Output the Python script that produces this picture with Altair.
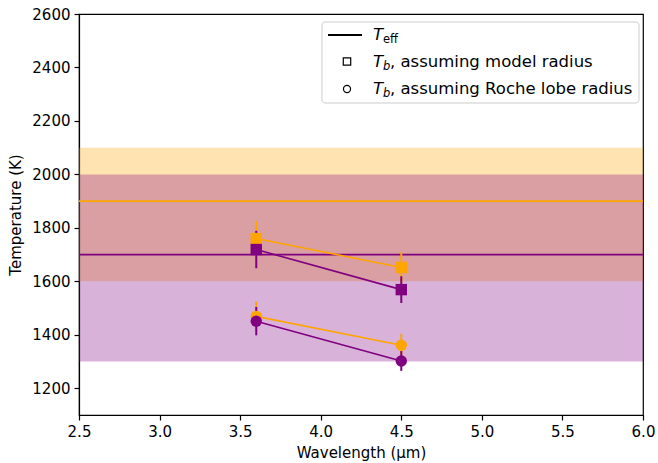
import altair as alt
import pandas as pd

# ---- data ----
wavelengths = [3.6, 4.5]
tb_model_orange = [1760, 1652]
tb_model_orange_err = [65, 57]
tb_model_purple = [1719, 1569]
tb_model_purple_err = [70, 50]
tb_roche_orange = [1469, 1361]
tb_roche_orange_err = [55, 43]
tb_roche_purple = [1451, 1302]
tb_roche_purple_err = [53, 37]

teff_values = [1900, 1700]
teff_colors = ["#FFA500", "#800080"]
band_lo = [1600, 1300]
band_hi = [2100, 2000]

x_ticks = [2.5, 3.0, 3.5, 4.0, 4.5, 5.0, 5.5, 6.0]
y_ticks = [1200, 1400, 1600, 1800, 2000, 2200, 2400, 2600]

legend_rest = ["", ", assuming model radius", ", assuming Roche lobe radius"]

W, H = 564, 401
FONT = "DejaVu Sans"
FS = 15
LFS = 16.5

rows = []
series_defs = [
    ("orange_sq", "#FFA500", "square", tb_model_orange, tb_model_orange_err),
    ("orange_ci", "#FFA500", "circle", tb_roche_orange, tb_roche_orange_err),
    ("purple_sq", "#800080", "square", tb_model_purple, tb_model_purple_err),
    ("purple_ci", "#800080", "circle", tb_roche_purple, tb_roche_purple_err),
]
for name, col, shp, vals, errs in series_defs:
    for w, v, e in zip(wavelengths, vals, errs):
        rows.append(dict(series=name, color=col, shape=shp, wl=w, T=v,
                         lo=v - e, hi=v + e))
df = pd.DataFrame(rows)

bands = pd.DataFrame(dict(lo=band_lo, hi=band_hi, color=teff_colors))
teff = pd.DataFrame(dict(T=teff_values, color=teff_colors))

xs = alt.Scale(domain=[2.5, 6.0], nice=False, zero=False)
ys = alt.Scale(domain=[1100, 2600], nice=False, zero=False)

band_layer = alt.Chart(bands).mark_rect(opacity=0.3).encode(
    x=alt.value(0), x2=alt.value(W),
    y=alt.Y("lo:Q", scale=ys), y2="hi:Q",
    color=alt.Color("color:N", scale=None),
)

teff_layer = alt.Chart(teff).mark_rule(strokeWidth=1.6).encode(
    x=alt.value(0), x2=alt.value(W),
    y=alt.Y("T:Q", scale=ys),
    color=alt.Color("color:N", scale=None),
)

base = alt.Chart(df)
xenc = alt.X("wl:Q", scale=xs,
             axis=alt.Axis(values=x_ticks, format=".1f",
                           title="Wavelength (μm)"))
yenc = alt.Y("T:Q", scale=ys,
             axis=alt.Axis(values=y_ticks, format="d",
                           title="Temperature (K)"))

line_layer = base.mark_line(strokeWidth=1.6).encode(
    x=xenc, y=yenc, detail="series:N",
    color=alt.Color("color:N", scale=None),
)
err_layer = base.mark_rule(strokeWidth=2).encode(
    x="wl:Q", y=alt.Y("lo:Q", scale=ys), y2="hi:Q",
    color=alt.Color("color:N", scale=None),
)
pt_layer = base.mark_point(filled=True, opacity=1, size=130).encode(
    x="wl:Q", y=alt.Y("T:Q", scale=ys),
    color=alt.Color("color:N", scale=None),
    shape=alt.Shape("shape:N", scale=None),
)

# ---- legend (drawn by hand to allow subscripts) ----
one = pd.DataFrame({"a": [0]})
lg_box = alt.Chart(one).mark_rect(
    fill="white", fillOpacity=0.8, stroke="#cccccc", strokeWidth=1,
    cornerRadius=3,
).encode(x=alt.value(243), x2=alt.value(560), y=alt.value(8), y2=alt.value(89))

lg_line = alt.Chart(one).mark_rule(
    color="black", strokeWidth=1.8
).encode(x=alt.value(249), x2=alt.value(283), y=alt.value(21))

lg_sq = alt.Chart(one).mark_point(
    shape="square", filled=False, color="black", size=55, strokeWidth=1.2,
    opacity=1,
).encode(x=alt.value(268), y=alt.value(47.5))
lg_ci = alt.Chart(one).mark_point(
    shape="circle", filled=False, color="black", size=50, strokeWidth=1.2,
    opacity=1,
).encode(x=alt.value(268), y=alt.value(75))

row_y = [21, 47.5, 75]
lg_texts = []
for ry, sub, rest in zip(row_y, ["eff", "b", "b"], legend_rest):
    lg_texts.append(alt.Chart(one).mark_text(
        text="T", font=FONT, fontSize=LFS, fontStyle="italic",
        align="left", baseline="middle", color="black",
    ).encode(x=alt.value(294), y=alt.value(ry)))
    lg_texts.append(alt.Chart(one).mark_text(
        text=sub, font=FONT, fontSize=11.5,
        fontStyle="normal" if sub == "eff" else "italic",
        align="left", baseline="middle", color="black",
    ).encode(x=alt.value(304), y=alt.value(ry + 5)))
    if rest:
        lg_texts.append(alt.Chart(one).mark_text(
            text=rest, font=FONT, fontSize=LFS,
            align="left", baseline="middle", color="black",
        ).encode(x=alt.value(311), y=alt.value(ry)))

chart = alt.layer(
    band_layer, teff_layer, line_layer, err_layer, pt_layer,
    lg_box, lg_line, lg_sq, lg_ci, *lg_texts,
).properties(
    width=W, height=H,
    autosize=alt.AutoSizeParams(type="none"),
    padding={"left": 79, "top": 14, "right": 15, "bottom": 48},
).configure_view(
    stroke="black", strokeWidth=1.2,
).configure_axis(
    grid=False, domainColor="black", domainWidth=1.2,
    tickColor="black", tickSize=5, tickWidth=1.2,
    labelFont=FONT, labelFontSize=FS, labelColor="black", labelPadding=4,
    labelFlush=False, labelOverlap=False,
    titleFont=FONT, titleFontSize=FS, titleFontWeight="normal",
    titleColor="black",
).configure_axisX(titlePadding=6).configure_axisY(titlePadding=8)

chart.save("out.html", embed_options={"renderer": "svg", "actions": False})
